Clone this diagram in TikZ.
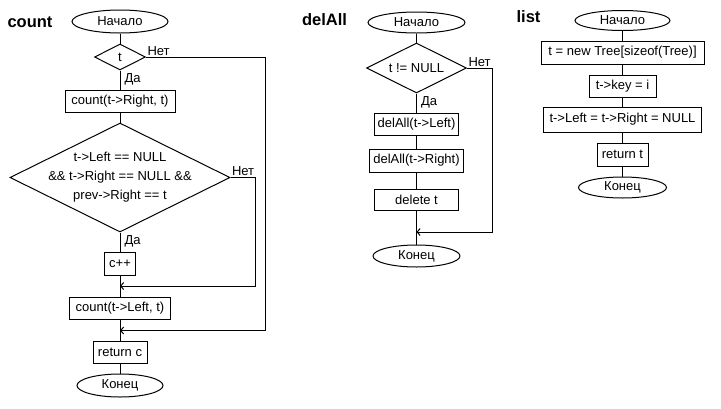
\documentclass[tikz,border=0pt]{standalone}
\usepackage{fontspec}
\setmainfont{Liberation Sans}
\usetikzlibrary{shapes.geometric,arrows.meta}
\begin{document}
\begin{tikzpicture}[x=1pt,y=-1pt,line width=1pt,
  every node/.style={font=\fontsize{13}{15.5}\selectfont},
  term/.style={draw,ellipse,inner sep=0pt},
  box/.style={draw,rectangle,inner sep=0pt},
  dia/.style={draw,diamond,inner sep=0pt},
  lbl/.style={inner sep=1pt},
  ttl/.style={font=\fontsize{16.5}{18}\selectfont\bfseries},
  arr/.style={-{Straight Barb[length=3pt,width=7pt]}}]
\useasboundingbox (0,0) rectangle (721,408);

% ---------- count ----------
\node[ttl] (tc) at (30,22) {count};
\node[term,minimum width=96pt,minimum height=23pt] (s1) at (120,21.5) {Начало};
\node[dia,minimum width=51pt,minimum height=26pt] (d1) at (120,57) {};
\node (d1t) at (d1) {t};
\node[box,minimum width=110pt,minimum height=22pt] (b1) at (120,101) {count(t->Right, t)};
\node[dia,minimum width=220pt,minimum height=109pt] (d2) at (120,177.5) {};
\node[align=center] (d2t) at (d2) {t->Left == NULL\\[3.5pt] \&\& t->Right == NULL \&\&\\[3.5pt] prev->Right == t};
\node[box,minimum width=31pt,minimum height=23pt] (b2) at (120,263.5) {c++};
\coordinate (j1) at (120,286);
\node[box,minimum width=101pt,minimum height=22pt] (b3) at (120,308) {count(t->Left, t)};
\coordinate (j2) at (120,330.5);
\node[box,minimum width=54pt,minimum height=22pt] (b4) at (120,352) {return c};
\node[term,minimum width=86pt,minimum height=23pt] (e1) at (120,385.5) {Конец};
\coordinate (k1) at (265,330.5);
\coordinate (k2) at (255,286);

\draw (s1.south) -- (d1.north);
\draw (d1.south) -- (b1.north);
\draw (b1.south) -- (d2.north);
\draw (d2.south) -- (b2.north);
\draw (b2.south) -- (b3.north);
\draw (b3.south) -- (b4.north);
\draw (b4.south) -- (e1.north);
\draw[arr] (d1.east) -| (k1) -- (j2);
\draw[arr] (d2.east) -| (k2) -- (j1);
\node[lbl,anchor=south west] (n1) at (d1.east) {Нет};
\node[lbl,anchor=north west,xshift=3pt,yshift=-2pt] (y1) at (d1.south) {Да};
\node[lbl,anchor=south west] (n2) at (d2.east) {Нет};
\node[lbl,anchor=north west,xshift=3pt,yshift=-2pt] (y2) at (d2.south) {Да};

% ---------- delAll ----------
\node[ttl] (td) at (324.5,20) {delAll};
\node[term,minimum width=97pt,minimum height=21pt] (s2) at (416.5,22.5) {Начало};
\node[dia,minimum width=100pt,minimum height=50pt] (d3) at (416.5,68) {};
\node (d3t) at (d3) {t != NULL};
\node[box,minimum width=84pt,minimum height=22pt] (b5) at (416.5,124) {delAll(t->Left)};
\node[box,minimum width=94pt,minimum height=23pt] (b6) at (416.5,160.5) {delAll(t->Right)};
\node[box,minimum width=84pt,minimum height=21pt] (b7) at (416.5,199.5) {delete t};
\coordinate (j3) at (416.5,232);
\node[term,minimum width=87pt,minimum height=22pt] (e2) at (416.5,256) {Конец};
\coordinate (k3) at (492,232);

\draw (s2.south) -- (d3.north);
\draw (d3.south) -- (b5.north);
\draw (b5.south) -- (b6.north);
\draw (b6.south) -- (b7.north);
\draw (b7.south) -- (e2.north);
\draw[arr] (d3.east) -| (k3) -- (j3);
\node[lbl,anchor=south west] (n3) at (d3.east) {Нет};
\node[lbl,anchor=north west,xshift=3pt,yshift=-2pt] (y3) at (d3.south) {Да};

% ---------- list ----------
\node[ttl] (tl) at (528.5,17) {list};
\node[term,minimum width=95pt,minimum height=20pt] (s3) at (622.5,20.5) {Начало};
\node[box,minimum width=163pt,minimum height=23pt] (b8) at (622.5,52.5) {t = new Tree[sizeof(Tree)]};
\node[box,minimum width=67pt,minimum height=22pt] (b9) at (622.5,86) {t->key = i};
\node[box,minimum width=158pt,minimum height=25pt] (b10) at (622.5,119.5) {t->Left = t->Right = NULL};
\node[box,minimum width=51pt,minimum height=23pt] (b11) at (622.5,154.5) {return t};
\node[term,minimum width=88pt,minimum height=21pt] (e3) at (622.5,187.5) {Конец};

\draw (s3.south) -- (b8.north);
\draw (b8.south) -- (b9.north);
\draw (b9.south) -- (b10.north);
\draw (b10.south) -- (b11.north);
\draw (b11.south) -- (e3.north);
\end{tikzpicture}
\end{document}
